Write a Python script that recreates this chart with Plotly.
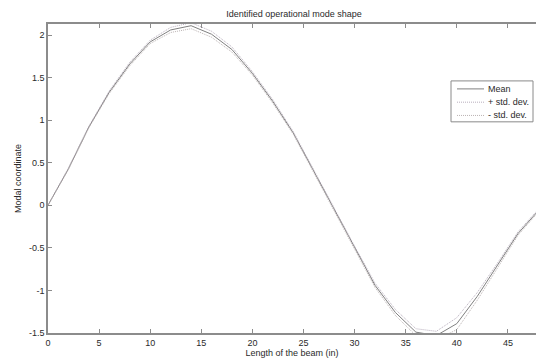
import plotly.graph_objects as go

# Beam positions (in)
x_pos = [0, 2, 4, 6, 8, 10, 12, 14, 16, 18, 20, 22, 24, 26, 28, 30, 32, 34, 36, 38, 40, 42, 44, 46, 48]
# Mean modal coordinate
mean_vals = [0.0, 0.43, 0.92, 1.33, 1.66, 1.92, 2.06, 2.11, 2.01, 1.83, 1.55, 1.22, 0.85, 0.40, -0.05, -0.50, -0.94, -1.26, -1.49, -1.53, -1.39, -1.07, -0.70, -0.33, -0.06]
# Standard deviation
std_vals = [0.0, 0.01, 0.01, 0.015, 0.02, 0.02, 0.03, 0.035, 0.035, 0.03, 0.02, 0.02, 0.015, 0.015, 0.015, 0.02, 0.025, 0.035, 0.04, 0.05, 0.07, 0.045, 0.025, 0.02, 0.015]
series_names = ["Mean", "+ std. dev.", "- std. dev."]

plus_vals = [m + s for m, s in zip(mean_vals, std_vals)]
minus_vals = [m - s for m, s in zip(mean_vals, std_vals)]

FONT = "Liberation Sans, Arial, sans-serif"
AXIS_COL = "#8c8c8c"
TEXT_COL = "#2a2a2a"
styles = [dict(color="#808080", width=1),
          dict(color="#b8aebd", width=1, dash="1px,1px"),
          dict(color="#bbb3b3", width=1, dash="1px,1px")]

fig = go.Figure()
for name, vals, st in zip(series_names, [mean_vals, plus_vals, minus_vals], styles):
    fig.add_trace(go.Scatter(x=x_pos, y=vals, mode="lines", name=name, line=st))

L, T, B = 48, 24, 24.5
W, H = 536, 358
plot_w = W - L
plot_h = H - T - B


def px(v):
    return (v - L) / plot_w


def py(v):
    return (H - B - v) / plot_h


# Legend drawn as a boxed key (compact MATLAB-like spacing)
shapes = [dict(type="rect", xref="paper", yref="paper", x0=px(451), x1=px(533), y0=py(122), y1=py(81),
               line=dict(color="#8a8a8a", width=1), fillcolor="white", layer="above")]
annotations = []
for i, (name, st) in enumerate(zip(series_names, styles)):
    yy = 89 + 13.3 * i
    shapes.append(dict(type="line", xref="paper", yref="paper", x0=px(457), x1=px(484), y0=py(yy), y1=py(yy),
                       line=st, layer="above"))
    annotations.append(dict(text=name, xref="paper", yref="paper", x=px(486), y=py(yy),
                            xanchor="left", yanchor="middle", showarrow=False,
                            font=dict(size=9, color=TEXT_COL)))

fig.update_layout(
    width=W, height=H,
    margin=dict(l=L, r=0, t=T, b=B, pad=0),
    paper_bgcolor="white", plot_bgcolor="white",
    font=dict(family=FONT, size=9, color=TEXT_COL),
    title=dict(text="Identified operational mode shape", font=dict(size=9, color=TEXT_COL),
               x=(294 - L) / plot_w, xref="paper", xanchor="center",
               y=1 - 14 / H, yref="container", yanchor="middle"),
    showlegend=False,
    shapes=shapes,
    annotations=annotations,
    xaxis=dict(range=[0, 47.75], tickvals=[0, 5, 10, 15, 20, 25, 30, 35, 40, 45],
               ticks="inside", ticklen=4, tickcolor=AXIS_COL, showgrid=False, zeroline=False,
               showline=True, linecolor=AXIS_COL, linewidth=1.5, mirror="ticks",
               title=dict(text="Length of the beam (in)", standoff=2, font=dict(size=9)),
               tickfont=dict(size=9)),
    yaxis=dict(range=[-1.5, 2.13], tickvals=[-1.5, -1, -0.5, 0, 0.5, 1, 1.5, 2],
               ticktext=["-1.5", "-1", "-0.5", "0", "0.5", "1", "1.5", "2"],
               ticks="inside", ticklen=4, tickcolor=AXIS_COL, showgrid=False, zeroline=False,
               showline=True, linecolor=AXIS_COL, linewidth=1.5,
               title=dict(text="Modal coordinate", standoff=6, font=dict(size=9)),
               tickfont=dict(size=9)),
)

fig.write_html("out.html")
